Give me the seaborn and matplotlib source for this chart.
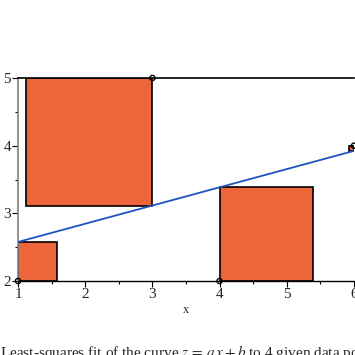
import numpy as np
import pandas as pd
import matplotlib
matplotlib.use("Agg")
import matplotlib.pyplot as plt
from matplotlib.patches import Rectangle
import seaborn as sns

# data
xs = [1, 3, 4, 6]
zs = [2, 5, 2, 4]
x_ticks = [1, 2, 3, 4, 5, 6]
y_ticks = [2, 3, 4, 5]
title = "Least-squares fit of the curve $z\\,=\\,a\\,x + b$ to 4 given data points"

sns.set_theme(style="white")
plt.rcParams["font.family"] = ["Liberation Serif", "DejaVu Serif"]
plt.rcParams["mathtext.fontset"] = "stix"

df = pd.DataFrame({"x": xs, "z": zs})
a, b = np.polyfit(df["x"], df["z"], 1)

fig = plt.figure(figsize=(3.55, 3.55), dpi=100)
ax = fig.add_axes([18 / 355, 74 / 355, 336 / 355, 203 / 355])

# residual squares
for xi, zi in zip(xs, zs):
    fit = a * xi + b
    r = zi - fit
    s = abs(r)
    if r < 0:
        rect = Rectangle((xi, zi), s, s)
    else:
        rect = Rectangle((xi - s, fit), s, s)
    rect.set_facecolor("#EE653C")
    rect.set_edgecolor("black")
    rect.set_linewidth(1.2)
    rect.set_zorder(2)
    ax.add_patch(rect)

sns.regplot(data=df, x="x", y="z", ax=ax, scatter=False, ci=None,
            line_kws=dict(color="#1D55C0", lw=1.3, zorder=3), truncate=True)
sns.scatterplot(data=df, x="x", y="z", ax=ax, marker="o", s=14,
                facecolor="none", edgecolor="black", linewidth=1.0,
                zorder=4, clip_on=False)

ax.set_xlim(1, 6)
ax.set_ylim(2, 5)
ax.set_xticks(x_ticks)
ax.set_yticks(y_ticks)
ax.set_xticks(np.arange(1.5, 6, 1), minor=True)
ax.set_yticks(np.arange(2.5, 5, 1), minor=True)
ax.tick_params(axis="both", which="major", direction="out", length=4, width=0.8,
               color="black", labelsize=11, pad=1, bottom=True, left=True)
ax.tick_params(axis="both", which="minor", direction="out", length=2, width=0.8,
               color="black", bottom=True, left=True)

ax.spines["right"].set_visible(False)
ax.spines["left"].set_color("#808080")
ax.spines["left"].set_linewidth(1.2)
ax.spines["bottom"].set_color("black")
ax.spines["bottom"].set_linewidth(1.0)
ax.spines["top"].set_color("black")
ax.spines["top"].set_linewidth(1.2)

ax.set_xlabel("x", fontsize=9, labelpad=2)
ax.set_ylabel("")

fig.text(0.0, -2 / 355, title, fontsize=11, ha="left", va="baseline")

fig.savefig("out.png", dpi=100)
